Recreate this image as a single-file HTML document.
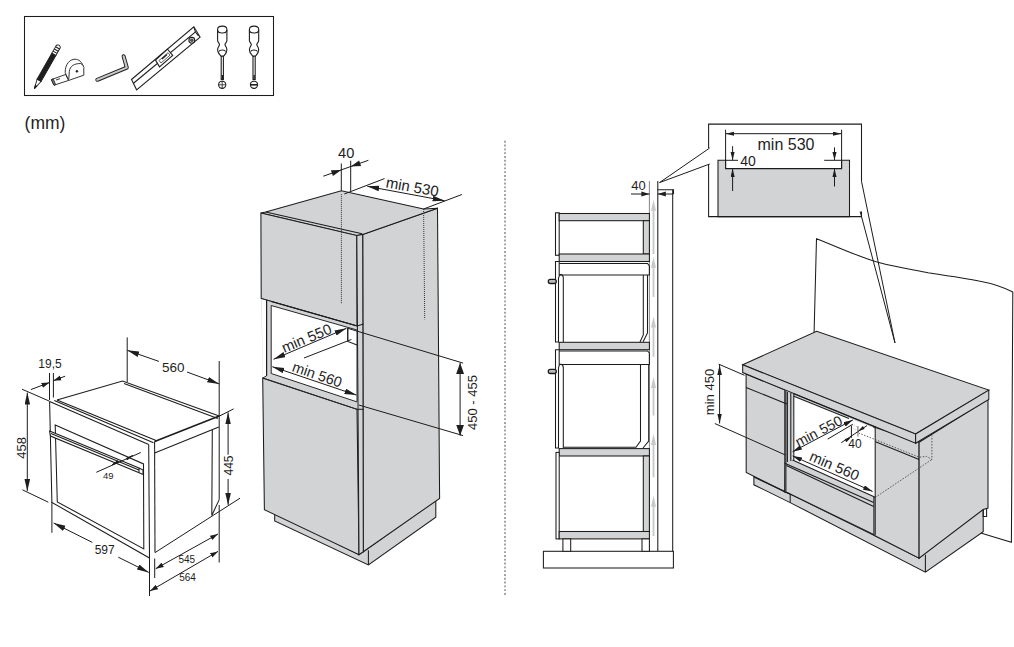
<!DOCTYPE html>
<html><head><meta charset="utf-8">
<style>
html,body{margin:0;padding:0;background:#fff;width:1014px;height:647px;overflow:hidden}
svg{display:block;position:absolute;left:0;top:0}
text{font-family:"Liberation Sans",sans-serif;fill:#1e1e1e}
.l{fill:none;stroke:#1c1c1c;stroke-width:1.05}
.t{fill:none;stroke:#1c1c1c;stroke-width:1}
.g{fill:#d2d3d5;stroke:#1c1c1c;stroke-width:1.05}
.w{fill:#fff;stroke:#262626;stroke-width:1}
</style></head><body>
<svg width="1014" height="647" viewBox="0 0 1014 647">
<defs>
<marker id="ae" markerUnits="userSpaceOnUse" markerWidth="13" markerHeight="6" refX="12" refY="2.8" orient="auto"><path d="M0,0 L12,2.8 L0,5.6 z" fill="#1e1e1e"/></marker>
<marker id="as" markerUnits="userSpaceOnUse" markerWidth="13" markerHeight="6" refX="12" refY="2.8" orient="auto-start-reverse"><path d="M0,0 L12,2.8 L0,5.6 z" fill="#1e1e1e"/></marker>
<marker id="we" markerUnits="userSpaceOnUse" markerWidth="13" markerHeight="9" refX="11" refY="4" orient="auto"><path d="M0,0 L11,4 L0,8 z" fill="#1e1e1e"/></marker>
<marker id="ws" markerUnits="userSpaceOnUse" markerWidth="13" markerHeight="9" refX="11" refY="4" orient="auto-start-reverse"><path d="M0,0 L11,4 L0,8 z" fill="#1e1e1e"/></marker>
<marker id="se" markerUnits="userSpaceOnUse" markerWidth="9" markerHeight="6" refX="8" refY="3" orient="auto"><path d="M0,0.5 L8,3 L0,5.5 z" fill="#1e1e1e"/></marker>
<marker id="ss" markerUnits="userSpaceOnUse" markerWidth="9" markerHeight="6" refX="8" refY="3" orient="auto-start-reverse"><path d="M0,0.5 L8,3 L0,5.5 z" fill="#1e1e1e"/></marker>
<marker id="ce" markerUnits="userSpaceOnUse" markerWidth="10.5" markerHeight="5.8" refX="9.5" refY="2.4" orient="auto"><path d="M0,0 L9.5,2.4 L0,4.8 z" fill="#1e1e1e"/></marker>
<marker id="cs" markerUnits="userSpaceOnUse" markerWidth="10.5" markerHeight="5.8" refX="9.5" refY="2.4" orient="auto-start-reverse"><path d="M0,0 L9.5,2.4 L0,4.8 z" fill="#1e1e1e"/></marker>
<marker id="ie" markerUnits="userSpaceOnUse" markerWidth="9.5" markerHeight="5.2" refX="8.5" refY="2.1" orient="auto"><path d="M0,0 L8.5,2.1 L0,4.2 z" fill="#1e1e1e"/></marker>
<marker id="is" markerUnits="userSpaceOnUse" markerWidth="9.5" markerHeight="5.2" refX="8.5" refY="2.1" orient="auto-start-reverse"><path d="M0,0 L8.5,2.1 L0,4.2 z" fill="#1e1e1e"/></marker>
<marker id="he" markerUnits="userSpaceOnUse" markerWidth="11" markerHeight="5.6" refX="10" refY="2.3" orient="auto"><path d="M0,0 L10,2.3 L0,4.6 z" fill="#1e1e1e"/></marker>
<marker id="hs" markerUnits="userSpaceOnUse" markerWidth="11" markerHeight="5.6" refX="10" refY="2.3" orient="auto-start-reverse"><path d="M0,0 L10,2.3 L0,4.6 z" fill="#1e1e1e"/></marker>
</defs>

<!-- TOOLS BOX -->
<rect x="24.5" y="16.5" width="249" height="79" class="l" stroke-width="1.1"/>

<!-- pencil -->
<g transform="translate(34.4,88.6) rotate(-60.4)" stroke="#1e1e1e" stroke-width="0.9">
<path d="M0,0 L9.5,-2.3 L9.5,2.3 Z" fill="#fff"/>
<path d="M0,0 L3.2,-0.8 L3.2,0.8 Z" fill="#1e1e1e"/>
<rect x="9.5" y="-2.3" width="30" height="4.6" fill="#1e1e1e"/>
<path d="M39.5,-2.3 L48.5,-2.3 Q51.3,0 48.5,2.3 L39.5,2.3 Z" fill="#fff"/>
<line x1="41.8" y1="-2.3" x2="41.8" y2="2.3" stroke-width="1.1"/>
<line x1="44.3" y1="-2.3" x2="44.3" y2="2.3" stroke-width="1.1"/>
<line x1="46.8" y1="-2.3" x2="46.8" y2="2.3" stroke-width="1.1"/>
</g>
<!-- tape -->
<g stroke="#1e1e1e" stroke-width="0.9" fill="#fff">
<path d="M51.4,79.6 L65.5,74.5 L68.7,80.4 L54,85.2 Z"/>
<path d="M51.4,79.6 L53.2,78.9 L55.6,84.6 L54,85.2 Z" fill="#888"/>
<path d="M56,80 L60,78.6" />
<path d="M65.2,72.6 C65,64 70,59.2 75,59.2 C79,59.2 82,62 83.8,67.4 L83.8,75.2 L68.7,80.4 Z"/>
<path d="M68.7,80.4 L69.3,71.5 C70,66 74,63.5 80.8,63.5 C82.5,64.5 83.3,66 83.8,67.4"/>
<circle cx="76.9" cy="71.3" r="0.9" fill="#1e1e1e"/>
</g>
<!-- allen key -->
<path d="M97.3,79.8 L126.8,67.6 L123.6,56.2" fill="none" stroke="#1e1e1e" stroke-width="4" stroke-linecap="round" stroke-linejoin="round"/>
<path d="M97.3,79.8 L126.8,67.6 L123.6,56.2" fill="none" stroke="#c8c8c8" stroke-width="2.1" stroke-linecap="round" stroke-linejoin="round"/>
<!-- level -->
<g stroke="#1e1e1e" stroke-width="1.1" fill="#fff">
<path d="M131.5,79.5 L193.8,26.9 L200.1,37.2 L136.6,89.8 Z"/>
<path d="M133.2,83.5 L196.1,31.4"/>
<path d="M193.8,26.9 L195.5,32 L198.5,36"/>
<path d="M155.5,60 L167.5,49.2 L172.7,55.5 L159.5,66.9 Z"/>
<path d="M159,60.5 L168,52.7 L170,55.2 L161,63 Z" stroke-width="0.7"/>
<line x1="162" y1="59" x2="167" y2="54.5" stroke-width="1.3"/>
<circle cx="191.8" cy="40.3" r="2.9"/>
<circle cx="191.8" cy="40.3" r="1.4" fill="#555" stroke-width="0.6"/>
</g>
<!-- screwdrivers -->
<g id="sd1" stroke="#1e1e1e" stroke-width="1.1" fill="#fff">
<path d="M217.6,29.5 C217.6,25 226.9,25 226.9,29.5 L226.9,40.6 C226.9,42.5 225,43 225,44.5 C225,46 226.9,47 226.9,50 C226.9,53 225,54.5 223.6,56.2 L221.1,56.2 C219.5,54.5 217.6,53 217.6,50 C217.6,47 219.5,46 219.5,44.5 C219.5,43 217.6,42.5 217.6,40.6 Z"/>
<path d="M217.6,30 C217.6,34 226.9,34 226.9,30" fill="none"/>
<path d="M218.8,51.5 C220,49.5 224.5,49.5 225.7,51.5" fill="none"/>
<rect x="221.2" y="56.2" width="2.2" height="23.4" fill="#fff"/>
<rect x="221.6" y="75" width="1.4" height="4.6" fill="#1e1e1e" stroke="none"/>
<circle cx="222.2" cy="84.8" r="3.6"/>
</g>
<path d="M222.2,81.5 L222.2,88.1 M218.9,84.8 L225.5,84.8" stroke="#1e1e1e" stroke-width="0.8"/>
<use href="#sd1" transform="translate(31.8,0)"/>
<path d="M250.8,84.8 L257.2,84.8" stroke="#1e1e1e" stroke-width="1.6"/>

<text x="24.6" y="129" font-size="17.5">(mm)</text>

<!-- LEFT OVEN -->
<g class="l">
<!-- top surface -->
<path d="M57,400 L122.5,381 L219.2,415.9"/>
<path d="M124,383.5 L217.8,418.5"/>
<path d="M49.6,401.4 L148.7,444.4"/>
<path d="M54.3,400.5 L153.5,442.7"/>
<path d="M57,400 L157.3,441.1"/>
<path d="M154.6,441.5 L219.2,415.9" stroke-width="1.6"/>
<!-- front face -->
<path d="M49.6,401.4 L51.9,502.4 L149.5,558 L148.7,444.4"/>

<path d="M154.6,441.5 L155,552.6"/>
<!-- side face -->
<path d="M154.6,453 L218.8,427"/>
<path d="M212.3,429.8 L211.8,515.5 L219.2,499.6"/>
<!-- door inner -->
<path d="M55.2,425 L143.5,463.9 L143.8,548.9 L57.3,501.9 Z"/>
<!-- handle -->
<path d="M49.6,431 L139,468 L143,470 L143,474.5 L138.5,472.5 L50.5,436 Z" fill="#fff"/>
<path d="M51,433.5 L139,470"/>
<path d="M139,468 L139,472.5"/>
</g>
<g class="t">
<!-- 19,5 -->
<line x1="49.5" y1="373" x2="49.5" y2="400"/>
<line x1="53.4" y1="373" x2="53.4" y2="397.5"/>
<line x1="30.8" y1="389.6" x2="49.5" y2="382.5" marker-end="url(#se)"/>
<line x1="65.1" y1="376.2" x2="53.4" y2="380.7" marker-end="url(#se)"/>
<!-- 458 -->
<line x1="22" y1="389.2" x2="49.5" y2="401.2"/>
<line x1="22.4" y1="489.8" x2="48.3" y2="502.2"/>
<line x1="27.3" y1="392.6" x2="27.3" y2="491" marker-start="url(#as)" marker-end="url(#ae)"/>
<!-- 560 -->
<line x1="127.2" y1="337.4" x2="127.2" y2="382"/>
<line x1="219.2" y1="361" x2="219.2" y2="499.6"/><line x1="219.2" y1="505" x2="219.2" y2="562.5"/>
<line x1="127.2" y1="350.3" x2="158.9" y2="361.4" marker-start="url(#as)"/>
<line x1="187" y1="372" x2="219.2" y2="383.9" marker-end="url(#ae)"/>
<!-- 445 -->
<line x1="216" y1="417.8" x2="233.6" y2="408.9"/>
<line x1="155" y1="552.6" x2="240" y2="498.2"/>
<line x1="228.1" y1="412.4" x2="228.1" y2="454.7" marker-start="url(#as)"/>
<line x1="228.1" y1="479" x2="228.1" y2="504.9" marker-end="url(#ae)"/>
<!-- 49 -->
<line x1="96.3" y1="472.3" x2="140.8" y2="452.5"/>
<path d="M112,464.8 L118,462.5 L117.6,460.8 Z M132.6,455.5 L126.6,458.2 L127.2,459.8 Z" fill="#1e1e1e"/>
<!-- 597 -->
<line x1="51.9" y1="502" x2="51.9" y2="532.8"/>
<line x1="149.5" y1="558" x2="149.5" y2="595.9"/>
<line x1="154.7" y1="558.5" x2="154.7" y2="578"/>
<line x1="53.6" y1="523" x2="92.3" y2="542.4" marker-start="url(#as)"/>
<line x1="118.3" y1="557.2" x2="148.8" y2="572.4" marker-end="url(#ae)"/>
<!-- 545 / 564 -->
<line x1="155.7" y1="568.7" x2="218" y2="534" marker-start="url(#ss)" marker-end="url(#ss)"/>
<line x1="150" y1="591" x2="218" y2="551.4" marker-start="url(#ss)" marker-end="url(#ss)"/>
</g>
<text x="38.3" y="367.8" font-size="12">19,5</text>
<text transform="translate(26.4,447.8) rotate(-90)" text-anchor="middle" font-size="13">458</text>
<text x="173.3" y="372" text-anchor="middle" font-size="13.5">560</text>
<text transform="translate(233,465.5) rotate(-90)" text-anchor="middle" font-size="12">445</text>
<text x="108.3" y="478.6" text-anchor="middle" font-size="9.5">49</text>
<text x="104.7" y="554" text-anchor="middle" font-size="12">597</text>
<text x="186.8" y="563.2" text-anchor="middle" font-size="10">545</text>
<text x="187.5" y="581.2" text-anchor="middle" font-size="10">564</text>

<!-- MIDDLE CABINET -->
<g class="g">
<!-- plinth -->
<path d="M274.7,512 L274.7,520.9 L368.4,565 L435.8,517.2 L435.8,500 L363.3,551.8 L359,554.6 Z"/>
<!-- side face -->
<path d="M362.7,234.4 L437.5,208.2 L439.6,498.4 L363.3,551.8 Z"/>
<!-- top face -->
<path d="M265.7,212 L341.4,190.7 L423.6,208.9 L437.5,208.2 L362.7,234.4 L356.8,235.6 L260.9,213.1 Z"/>
<!-- upper door -->
<path d="M260.9,213.1 L356.8,235.6 L357,325.9 L261.2,298.5 Z"/>
<!-- opening region -->
<path d="M261.2,298.5 L357,325.9 L357,409.3 L262.7,378.1 Z" stroke="none"/>
<!-- lower door -->
<path d="M262.7,378.1 L357,409.3 L359,554.6 L264.4,509.7 Z"/>
<!-- door edge strip -->
<path d="M356.8,235.6 L362.7,234.4 L363.3,551.8 L359,554.6 Z"/>
</g>
<path d="M261.7,299 L266.6,300.2 L266.6,376.5 L262.7,377.8 Z" fill="#fff"/>
<path d="M261.2,298.5 L357,325.9 M262.7,378.1 L357,409.3 M266.6,300 L266.6,375.8 L262.7,378.1" fill="none" stroke="#262626" stroke-width="1"/>
<path d="M271.2,305.5 L357,330 L357,401.9 L271.2,373.5 Z" fill="#fff" stroke="#262626" stroke-width="1"/>
<g class="l">
<path d="M265.7,212 L362.1,233.8"/>
<path d="M266.6,300 L266.6,375.8"/>
<path d="M271.2,301.6 L357,326"/>
<path d="M368.4,550.3 L368.4,565"/>
<path d="M357,326 L363.5,324"/>
<path d="M357,409.3 L363.5,409.3"/>
<path d="M347.8,328 L347.8,341.5 L357,345"/>
</g>
<g stroke="#333" stroke-width="1" stroke-dasharray="1,1" fill="none">
<line x1="341.4" y1="194.2" x2="341.4" y2="304"/>
<line x1="423.6" y1="209" x2="424.7" y2="319.3"/>
</g>
<g class="t">
<!-- 40 -->
<line x1="341.3" y1="163.5" x2="341.3" y2="191"/>
<line x1="350.7" y1="160.7" x2="350.7" y2="191"/>
<line x1="323.3" y1="176.2" x2="368.4" y2="160.3"/>
<path d="M341.3,169.9 L332.9,176.0 L330.9,170.3 Z M350.7,166.5 L361.1,166.0 L359.1,160.4 Z" fill="#1e1e1e" stroke="none"/>
<!-- min 530 -->
<line x1="344.3" y1="194" x2="384.5" y2="178.6"/>
<line x1="423.6" y1="209" x2="461.9" y2="194.5"/>
<line x1="367.3" y1="186.3" x2="444.6" y2="200.7" marker-start="url(#as)" marker-end="url(#ae)"/>
<!-- min 550 -->
<line x1="273.5" y1="359.3" x2="346.5" y2="328.3" marker-start="url(#as)" marker-end="url(#ae)"/>
<line x1="304" y1="358" x2="351.4" y2="339.5"/>
<line x1="347.7" y1="328.3" x2="347.7" y2="340.7"/>
<!-- min 560 -->
<line x1="272.3" y1="366.7" x2="356.4" y2="395.1" marker-start="url(#as)" marker-end="url(#ae)"/>
<!-- 450-455 -->
<line x1="347.7" y1="328.3" x2="463.1" y2="363.1"/>
<line x1="358.8" y1="405" x2="463.1" y2="435.6"/>
<line x1="460.1" y1="363.1" x2="460.1" y2="435.6" marker-start="url(#ws)" marker-end="url(#we)"/>
</g>
<text x="346.2" y="158" text-anchor="middle" font-size="14.6">40</text>
<text transform="translate(411.5,192) rotate(10)" text-anchor="middle" font-size="15">min 530</text>
<text transform="translate(308.5,343) rotate(-22.5)" text-anchor="middle" font-size="14.8">min 550</text>
<text transform="translate(315.6,379.3) rotate(19)" text-anchor="middle" font-size="14.5">min 560</text>
<text transform="translate(477,402.5) rotate(-90)" text-anchor="middle" font-size="13">450 - 455</text>

<!-- SECTION VIEW -->
<g class="l">
<line x1="649.4" y1="181" x2="649.4" y2="551.3" stroke="#8a8a8a"/>
<line x1="657.8" y1="181" x2="657.8" y2="551.3"/>
<line x1="672.7" y1="189.8" x2="672.7" y2="551.3"/>
<path d="M657.8,189.8 L673.5,189.8 L673.5,194"/>
<rect x="543.4" y="551.3" width="130" height="16.7" fill="#fff"/>
</g>
<g fill="#c8c8c8">
<path d="M653.5,199.7 L656,210.7 L654.4,210.7 L654.4,253.9 L652.6,253.9 L652.6,210.7 L651,210.7 Z"/>
<path d="M653.5,256.7 L656,267.7 L654.4,267.7 L654.4,297 L652.6,297 L652.6,267.7 L651,267.7 Z"/>
<path d="M653.5,316.4 L656,327.4 L654.4,327.4 L654.4,356.7 L652.6,356.7 L652.6,327.4 L651,327.4 Z"/>
<path d="M653.5,377 L656,388 L654.4,388 L654.4,415.6 L652.6,415.6 L652.6,388 L651,388 Z"/>
<path d="M653.5,434 L656,445 L654.4,445 L654.4,477.3 L652.6,477.3 L652.6,445 L651,445 Z"/>
<path d="M653.5,495.8 L656,506.8 L654.4,506.8 L654.4,536 L652.6,536 L652.6,506.8 L651,506.8 Z"/>
</g>
<g class="l">
<!-- upper cabinet -->
<rect x="555.5" y="212.8" width="3.7" height="42.5" fill="#fff"/>
<rect x="559.2" y="213.5" width="90.2" height="7.2" class="g"/>
<rect x="643.3" y="220.7" width="6.1" height="33.3" class="g"/>
<rect x="559.2" y="254" width="90.2" height="7.5" class="g"/>
<!-- oven 1 -->
<path d="M555.5,261.5 L559.2,261.5 L559.2,276.5 L558.5,278 L558.5,342 L555.5,342 Z" fill="#fff"/>
<path d="M559.2,263.5 L647.5,263.5 L649.4,266 L649.4,275 L559.2,275"/>
<path d="M559.2,274.6 L561,274.6 Q563.3,275 563.3,278 L563.3,342"/>
<path d="M643.3,275 L643.3,335 L640,342"/>
<path d="M647.5,275 L647.5,333 L643,342"/>
<rect x="548.3" y="279.3" width="8" height="4.2" rx="2" fill="#bbb" stroke-width="1.3"/>
<!-- middle shelf -->
<rect x="559.2" y="342.3" width="90.2" height="7.4" class="g"/>
<!-- oven 2 -->
<path d="M555.5,349.7 L559.2,349.7 L559.2,366 L558.5,367.5 L558.5,448 L555.5,448 Z" fill="#fff"/>
<path d="M559.2,351 L647.5,351 L649.4,353 L649.4,364.5 L559.2,364.5"/>
<path d="M559.2,364.3 L561,364.3 Q563.3,364.7 563.3,367.7 L563.3,448"/>
<path d="M640.5,364.5 L640.5,441 L636,447.3 L563.5,447.3"/>
<path d="M648.7,364.5 L648.7,441 L643,448"/>
<rect x="548.3" y="369.3" width="8" height="4.2" rx="2" fill="#bbb" stroke-width="1.3"/>
<!-- bottom shelf -->
<rect x="559.2" y="448.6" width="90.2" height="7.4" class="g"/>
<!-- lower cabinet -->
<rect x="556" y="452.4" width="3.2" height="86.5" fill="#fff"/>
<rect x="643.3" y="456" width="6.1" height="75.5" class="g"/>
<rect x="559.2" y="531.5" width="90.2" height="7.4" class="g"/>
<rect x="562.9" y="538.9" width="7.8" height="12.4" fill="#fff"/>
<rect x="642" y="538.9" width="7.4" height="12.4" fill="#fff"/>
</g>
<g class="t">
<line x1="631" y1="194" x2="649.4" y2="194" marker-end="url(#se)"/>
<line x1="673.4" y1="194" x2="657.8" y2="194" marker-end="url(#se)"/>
<line x1="659.5" y1="182.6" x2="709.7" y2="148"/>
<line x1="659.5" y1="182.6" x2="709.7" y2="164"/>
</g>
<text x="638.5" y="189.8" text-anchor="middle" font-size="13">40</text>

<!-- INSET BOX -->
<path d="M708.6,148 L708.6,124.1 L861.5,124.1 L861.5,181.4 M861.5,211.5 L861.5,216.6 L708.6,216.6 L708.6,164" class="l"/>
<path d="M718,216.6 L718,160.3 L725.6,160.3 L725.6,168.6 L841.6,168.6 L841.6,160.3 L849.5,160.3 L849.5,216.6 Z" class="g"/>
<g class="t">
<line x1="725.6" y1="129.7" x2="725.6" y2="168.6"/>
<line x1="841.6" y1="129.7" x2="841.6" y2="168.6"/>
<line x1="725.8" y1="133.7" x2="841.2" y2="133.7" marker-start="url(#is)" marker-end="url(#ie)"/>
<line x1="732.6" y1="146.2" x2="732.6" y2="160.3" marker-end="url(#ie)"/>
<line x1="732.6" y1="191" x2="732.6" y2="168.6" marker-end="url(#ie)"/>
<line x1="725.6" y1="160.3" x2="738" y2="160.3"/>
<line x1="834.5" y1="147.4" x2="834.5" y2="160.3" marker-end="url(#ie)"/>
<line x1="834.5" y1="186.5" x2="834.5" y2="168.6" marker-end="url(#ie)"/>
<line x1="824.2" y1="160.3" x2="841.6" y2="160.3"/>
<line x1="861.5" y1="181.4" x2="895" y2="343"/>
<line x1="860.2" y1="211.5" x2="895" y2="343"/>
</g>
<text x="786" y="150" text-anchor="middle" font-size="16">min 530</text>
<text x="740.3" y="165.8" font-size="14">40</text>

<!-- COUNTER -->
<g class="l">
<path d="M814.1,332.2 L816.5,238.7 C845,250 862,258 878.7,262.5 C900,268 915,270 928,272.7 C950,276 970,279 979,281 C995,284 1005,288 1012.8,292 L1011.4,542.3 L979,532.4"/>
</g>
<g class="g">
<!-- plinth -->
<path d="M753.9,470 L753.9,484.8 L790.2,502.6 L925.4,572.1 L983.2,531.7 L983.2,505 L919.1,558.2 L873.9,535.2 L790.2,494.1 L784.8,491.8 Z"/>
<!-- left panel -->
<path d="M746.1,374 L786.9,390.7 L784.8,491.8 L746.2,472.5 Z"/>
<!-- frame strip + rails -->
<path d="M784.8,388 L875.2,421 L875.2,535.2 L790.2,494.1 L784.8,491.8 Z"/>
<!-- right front panel -->
<path d="M873.9,427 L919.1,442.2 L919.1,558.2 L873.9,535.2 Z"/>
<!-- right side -->
<path d="M919.1,442.2 L988,399.4 L988,508.1 L983.2,509.5 L919.1,558.2 Z"/>
<!-- counter top -->
<path d="M742.7,364.8 L816.6,331.2 L988.8,390.1 L915.6,434 Z"/>
<path d="M742.7,364.8 L915.6,434 L915.6,443.3 L742.7,372.6 Z"/>
<path d="M915.6,434 L988.8,390.1 L988.8,399.4 L915.6,443.3 Z"/>
</g>
<path d="M793.8,396.3 L875.2,428.5 L875.2,497.2 L792.5,460.1 Z" fill="#fff"/>
<g class="l">
<path d="M746.1,387.4 L786.9,404.1"/>
<path d="M785.9,391 L785.9,491.5"/>
<path d="M787.4,392 L787.4,462"/>
<path d="M790.8,393 L790.8,461"/>
<path d="M793.8,393.8 L793.8,460.5"/>
<path d="M793.8,393.8 L875.7,427.3"/>
<path d="M793.8,396.3 L849,418.5"/>
<path d="M875.2,427.3 L875.2,535.2"/>
<path d="M792.5,460.1 L875.2,497.2"/>
<path d="M784.8,463.2 L873.7,502.6"/>
<path d="M786.4,465.5 L873.7,506.5"/>
<path d="M790.2,494.1 L790.2,502.6"/>
<path d="M875.5,441.7 L919.1,459.5"/>
<path d="M925.4,554.7 L925.4,572.1"/>
<path d="M983.2,509.5 L983.2,516.4 L986.6,516.4 L986.6,508.5"/>
<path d="M753.9,477.1 L790.2,494.1"/>
</g>
<g stroke="#333" stroke-width="0.8" stroke-dasharray="1.5,1.5" fill="none">
<path d="M858.5,432.9 L919.1,457.2 L926.5,456.4 L931.9,459.5 L931.9,435.5"/>
<path d="M875.2,497.4 L931.9,459.5"/>
</g>
<g class="t">
<line x1="718.6" y1="364.1" x2="744.5" y2="375.3"/>
<line x1="714.8" y1="423.5" x2="785.4" y2="455"/>
<line x1="719.6" y1="364.9" x2="719.6" y2="423.5" marker-start="url(#hs)" marker-end="url(#he)"/>
<line x1="792.6" y1="451.7" x2="852.9" y2="419.9" marker-start="url(#cs)" marker-end="url(#ce)"/>
<line x1="827.7" y1="439.1" x2="852.9" y2="424.2"/>
<line x1="851.4" y1="425.5" x2="851.4" y2="437.8"/>
<line x1="857.9" y1="426" x2="857.9" y2="436.6" stroke="#888" stroke-width="1.2"/>
<line x1="841.2" y1="442.8" x2="867.1" y2="425.5"/>
<path d="M851.4,436.9 L844.6,439.3 L846.4,442.2 Z M857.9,431.3 L864.6,428.9 L862.9,426 Z" fill="#1e1e1e" stroke="none"/>
<path d="M852.3,425 L857.9,427 L857.9,431 L852.3,428" stroke="#999" stroke-width="0.6" stroke-dasharray="1,1"/>
<line x1="792.6" y1="455.9" x2="872.6" y2="491.4" marker-start="url(#cs)" marker-end="url(#ce)"/>
</g>
<text transform="translate(714,392) rotate(-90)" text-anchor="middle" font-size="13">min 450</text>
<text transform="translate(821,435.6) rotate(-27.5)" text-anchor="middle" font-size="14.3">min 550</text>
<text x="855" y="448" text-anchor="middle" font-size="12">40</text>
<text transform="translate(832.5,470.5) rotate(23.5)" text-anchor="middle" font-size="14.7">min 560</text>

<!-- divider -->
<line x1="505" y1="140.8" x2="505" y2="596" stroke="#6a6a6a" stroke-width="1.2" stroke-dasharray="1.9,1.9"/>

</svg>
</body></html>
